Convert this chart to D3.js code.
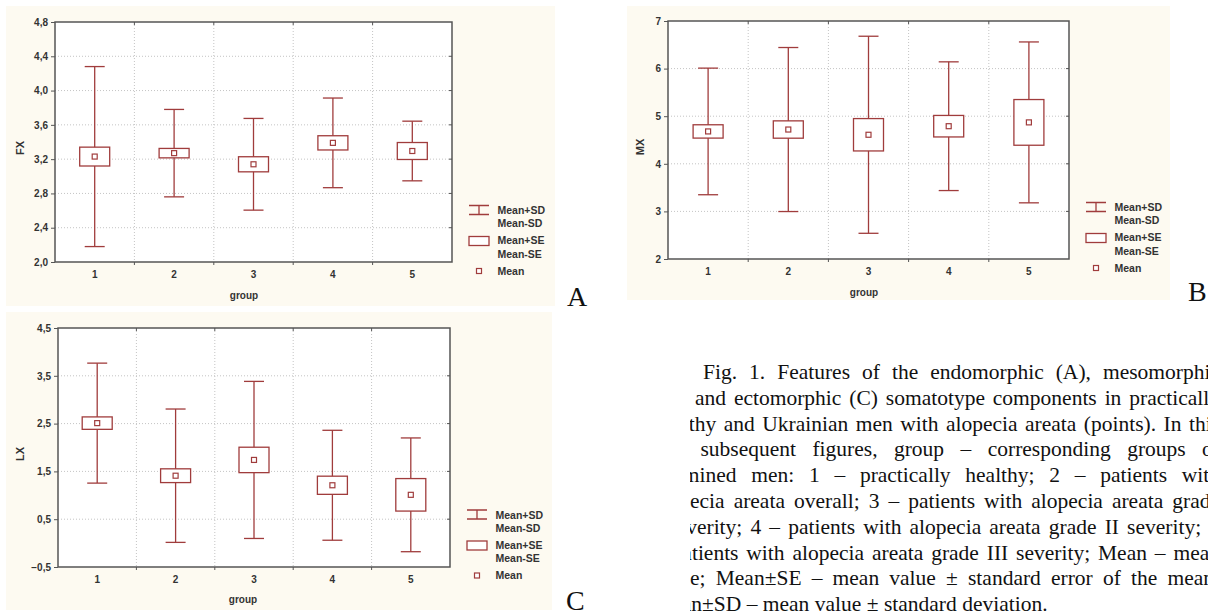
<!DOCTYPE html>
<html>
<head>
<meta charset="utf-8">
<script src="https://cdn.jsdelivr.net/npm/d3@7"></script>
<style>
  body { margin: 0; background: #fff; }
  svg { display: block; }
</style>
</head>
<body>
<svg id="fig" width="1208" height="615"></svg>
<script>
const groups = ["1", "2", "3", "4", "5"];

// A - endomorphic component
const fxMean = [3.23, 3.27, 3.14, 3.39, 3.295];
const fxSE = [0.11, 0.055, 0.088, 0.083, 0.099];
const fxSD = [1.05, 0.51, 0.535, 0.523, 0.348];
const fxTicks = [2.0, 2.4, 2.8, 3.2, 3.6, 4.0, 4.4, 4.8];

// B - mesomorphic component
const mxMean = [4.68, 4.72, 4.61, 4.79, 4.87];
const mxSE = [0.14, 0.182, 0.34, 0.226, 0.48];
const mxSD = [1.33, 1.723, 2.07, 1.352, 1.69];
const mxTicks = [2, 3, 4, 5, 6, 7];

// C - ectomorphic component
const lxMean = [2.51, 1.41, 1.74, 1.21, 1.01];
const lxSE = [0.13, 0.144, 0.266, 0.19, 0.34];
const lxSD = [1.255, 1.395, 1.643, 1.15, 1.19];
const lxTicks = [-0.5, 0.5, 1.5, 2.5, 3.5, 4.5];

const legendLabels = [["Mean+SD", "Mean-SD"], ["Mean+SE", "Mean-SE"], ["Mean"]];

const captionLines = [
  "Fig. 1. Features of the endomorphic (A), mesomorphic",
  "(B), and ectomorphic (C) somatotype components in practically",
  "healthy and Ukrainian men with alopecia areata (points). In this",
  "and subsequent figures, group \u2013 corresponding groups of",
  "examined men: 1 \u2013 practically healthy; 2 \u2013 patients with",
  "alopecia areata overall; 3 \u2013 patients with alopecia areata grade",
  "I severity; 4 \u2013 patients with alopecia areata grade II severity; 5",
  "\u2013 patients with alopecia areata grade III severity; Mean \u2013 mean",
  "value; Mean\u00b1SE \u2013 mean value \u00b1 standard error of the mean;",
  "Mean\u00b1SD \u2013 mean value \u00b1 standard deviation."
];

const RED = "#a03c3c";
const FRAME = "#555";
const INK = "#333";
const BEIGE = "#fdfaf1";
const SANS = "'Liberation Sans', Arial, sans-serif";

const svg = d3.select("#fig");

function drawPanel(p) {
  const g = svg.append("g");

  g.append("rect")
    .attr("x", p.bg[0]).attr("y", p.bg[1])
    .attr("width", p.bg[2] - p.bg[0]).attr("height", p.bg[3] - p.bg[1])
    .attr("fill", BEIGE);

  const x = d3.scaleBand().domain(groups).range([p.left, p.right]);
  const y = d3.scaleLinear().domain([p.ticks[0], p.ticks[p.ticks.length - 1]]).range([p.bottom, p.top]);

  g.append("rect")
    .attr("x", p.left).attr("y", p.top)
    .attr("width", p.right - p.left).attr("height", p.bottom - p.top)
    .attr("fill", "#fff");

  // dotted grid
  g.selectAll(".hgrid")
    .data(p.ticks.slice(1, -1))
    .join("line")
    .attr("x1", p.left).attr("x2", p.right)
    .attr("y1", (d) => y(d)).attr("y2", (d) => y(d))
    .attr("stroke", "#c4c4c4").attr("stroke-dasharray", "1,2");

  const bounds = groups.slice(1).map((d) => x(d));
  g.selectAll(".vgrid")
    .data(bounds)
    .join("line")
    .attr("x1", (d) => d).attr("x2", (d) => d)
    .attr("y1", p.top).attr("y2", p.bottom)
    .attr("stroke", "#c4c4c4").attr("stroke-dasharray", "1,2");

  // small tick marks on the frame
  g.selectAll(".rtick")
    .data(p.ticks.slice(1, -1))
    .join("line")
    .attr("x1", p.right - 3).attr("x2", p.right)
    .attr("y1", (d) => y(d)).attr("y2", (d) => y(d))
    .attr("stroke", FRAME);
  g.selectAll(".btick")
    .data(bounds)
    .join("line")
    .attr("x1", (d) => d).attr("x2", (d) => d)
    .attr("y1", p.bottom).attr("y2", p.bottom + 3)
    .attr("stroke", FRAME);
  g.selectAll(".ttick")
    .data(bounds)
    .join("line")
    .attr("x1", (d) => d).attr("x2", (d) => d)
    .attr("y1", p.top).attr("y2", p.top + 3)
    .attr("stroke", FRAME);

  // y axis
  const yAxis = g.append("g")
    .attr("transform", `translate(${p.left},0)`)
    .call(d3.axisLeft(y)
      .tickValues(p.ticks)
      .tickSize(4)
      .tickPadding(3)
      .tickFormat((d) => d3.format(p.fmt)(d).replace(".", ",")));
  yAxis.select(".domain").remove();
  yAxis.selectAll("line").attr("stroke", FRAME);
  yAxis.selectAll("text")
    .attr("fill", INK).style("font", `bold 10px ${SANS}`);

  // x axis
  const xAxis = g.append("g")
    .attr("transform", `translate(0,${p.bottom})`)
    .call(d3.axisBottom(x).tickSize(0).tickPadding(9));
  xAxis.select(".domain").remove();
  xAxis.selectAll("text")
    .attr("fill", INK).style("font", `bold 10px ${SANS}`);

  g.append("text")
    .attr("x", p.xlab[0]).attr("y", p.xlab[1])
    .attr("text-anchor", "middle").attr("dy", "0.35em")
    .attr("fill", INK).style("font", `bold 10px ${SANS}`)
    .text("group");

  g.append("text")
    .attr("transform", `translate(${p.ylab[0]},${p.ylab[1]}) rotate(-90)`)
    .attr("text-anchor", "middle").attr("dy", "0.35em")
    .attr("fill", INK).style("font", `bold 11px ${SANS}`)
    .text(p.name);

  // mean +- SD whiskers, mean +- SE boxes, mean squares
  const rows = groups.map((k, i) => ({ k, m: p.mean[i], se: p.se[i], sd: p.sd[i] }));
  const cx = (d) => x(d.k) + x.bandwidth() / 2;

  g.selectAll(".whisk")
    .data(rows)
    .join("line")
    .attr("x1", cx).attr("x2", cx)
    .attr("y1", (d) => y(d.m + d.sd)).attr("y2", (d) => y(d.m - d.sd))
    .attr("stroke", RED).attr("stroke-width", 1.3);
  g.selectAll(".capTop")
    .data(rows)
    .join("line")
    .attr("x1", (d) => cx(d) - 10).attr("x2", (d) => cx(d) + 10)
    .attr("y1", (d) => y(d.m + d.sd)).attr("y2", (d) => y(d.m + d.sd))
    .attr("stroke", RED).attr("stroke-width", 1.3);
  g.selectAll(".capBot")
    .data(rows)
    .join("line")
    .attr("x1", (d) => cx(d) - 10).attr("x2", (d) => cx(d) + 10)
    .attr("y1", (d) => y(d.m - d.sd)).attr("y2", (d) => y(d.m - d.sd))
    .attr("stroke", RED).attr("stroke-width", 1.3);
  g.selectAll(".box")
    .data(rows)
    .join("rect")
    .attr("x", (d) => cx(d) - 15).attr("width", 30)
    .attr("y", (d) => y(d.m + d.se))
    .attr("height", (d) => y(d.m - d.se) - y(d.m + d.se))
    .attr("fill", "#fff").attr("stroke", RED).attr("stroke-width", 1.3);
  g.selectAll(".mean")
    .data(rows)
    .join("rect")
    .attr("x", (d) => cx(d) - 2.5).attr("y", (d) => y(d.m) - 2.5)
    .attr("width", 5).attr("height", 5)
    .attr("fill", "#fff").attr("stroke", RED).attr("stroke-width", 1.2);

  // frame
  g.append("rect")
    .attr("x", p.left).attr("y", p.top)
    .attr("width", p.right - p.left).attr("height", p.bottom - p.top)
    .attr("fill", "none").attr("stroke", FRAME).attr("stroke-width", 1.5);

  // legend
  const lx = p.leg[0], ly = p.leg[1];
  const lg = g.append("g").attr("transform", `translate(${lx},${ly})`);
  lg.append("path")
    .attr("d", "M0,0H20M0,9H20M10,0V9")
    .attr("fill", "none").attr("stroke", RED).attr("stroke-width", 1.3);
  lg.append("rect")
    .attr("x", 0).attr("y", 31).attr("width", 20).attr("height", 9)
    .attr("fill", "#fff").attr("stroke", RED).attr("stroke-width", 1.3);
  lg.append("rect")
    .attr("x", 7.5).attr("y", 63).attr("width", 5).attr("height", 5)
    .attr("fill", "#fff").attr("stroke", RED).attr("stroke-width", 1.2);
  const ty = [[5, 18], [35, 48.5], [65.5]];
  legendLabels.forEach((pair, i) => {
    pair.forEach((t, j) => {
      lg.append("text")
        .attr("x", 28.5).attr("y", ty[i][j]).attr("dy", "0.35em")
        .attr("fill", INK).style("font", `bold 10.5px ${SANS}`)
        .text(t);
    });
  });

  svg.append("text")
    .attr("x", p.letter[0]).attr("y", p.letter[1])
    .style("font", "28px 'Liberation Serif', 'Times New Roman', serif")
    .attr("fill", "#111")
    .text(p.letterText);
}

drawPanel({
  name: "FX", mean: fxMean, se: fxSE, sd: fxSD, ticks: fxTicks, fmt: ".1f",
  bg: [6, 6, 555, 306], left: 55, right: 452, top: 22, bottom: 262,
  xlab: [244, 295], ylab: [20, 148], leg: [469, 205.5],
  letter: [567, 306], letterText: "A"
});

drawPanel({
  name: "MX", mean: mxMean, se: mxSE, sd: mxSD, ticks: mxTicks, fmt: "d",
  bg: [627, 6, 1170, 300], left: 668, right: 1069, top: 21, bottom: 259,
  xlab: [864, 292], ylab: [640, 147], leg: [1086, 202.5],
  letter: [1188, 301], letterText: "B"
});

drawPanel({
  name: "LX", mean: lxMean, se: lxSE, sd: lxSD, ticks: lxTicks, fmt: ".1f",
  bg: [6, 312, 552, 610], left: 58, right: 450, top: 328, bottom: 567,
  xlab: [243, 599], ylab: [20, 454], leg: [467, 510],
  letter: [566, 610], letterText: "C"
});

// caption, justified line by line and clipped like the source page
svg.append("clipPath").attr("id", "capClip")
  .append("rect").attr("x", 690).attr("y", 340).attr("width", 518).attr("height", 275);

const cap = svg.append("g").attr("clip-path", "url(#capClip)")
  .style("font", "21.5px 'Liberation Serif', 'Times New Roman', serif")
  .attr("fill", "#111");

const capLeft = 653, capRight = 1220, indent = 50, base0 = 379, lineH = 25.8;

captionLines.forEach((line, i) => {
  const words = line.split(" ");
  const x0 = capLeft + (i === 0 ? indent : 0);
  const yb = base0 + i * lineH;
  const nodes = words.map((w) => cap.append("text").attr("y", yb).text(w));
  const widths = nodes.map((n) => n.node().getComputedTextLength());
  const total = d3.sum(widths);
  const last = i === captionLines.length - 1;
  const gap = last || words.length < 2 ? 5.4 : (capRight - x0 - total) / (words.length - 1);
  let cur = x0;
  nodes.forEach((n, j) => {
    n.attr("x", cur);
    cur += widths[j] + gap;
  });
});
</script>
</body>
</html>
